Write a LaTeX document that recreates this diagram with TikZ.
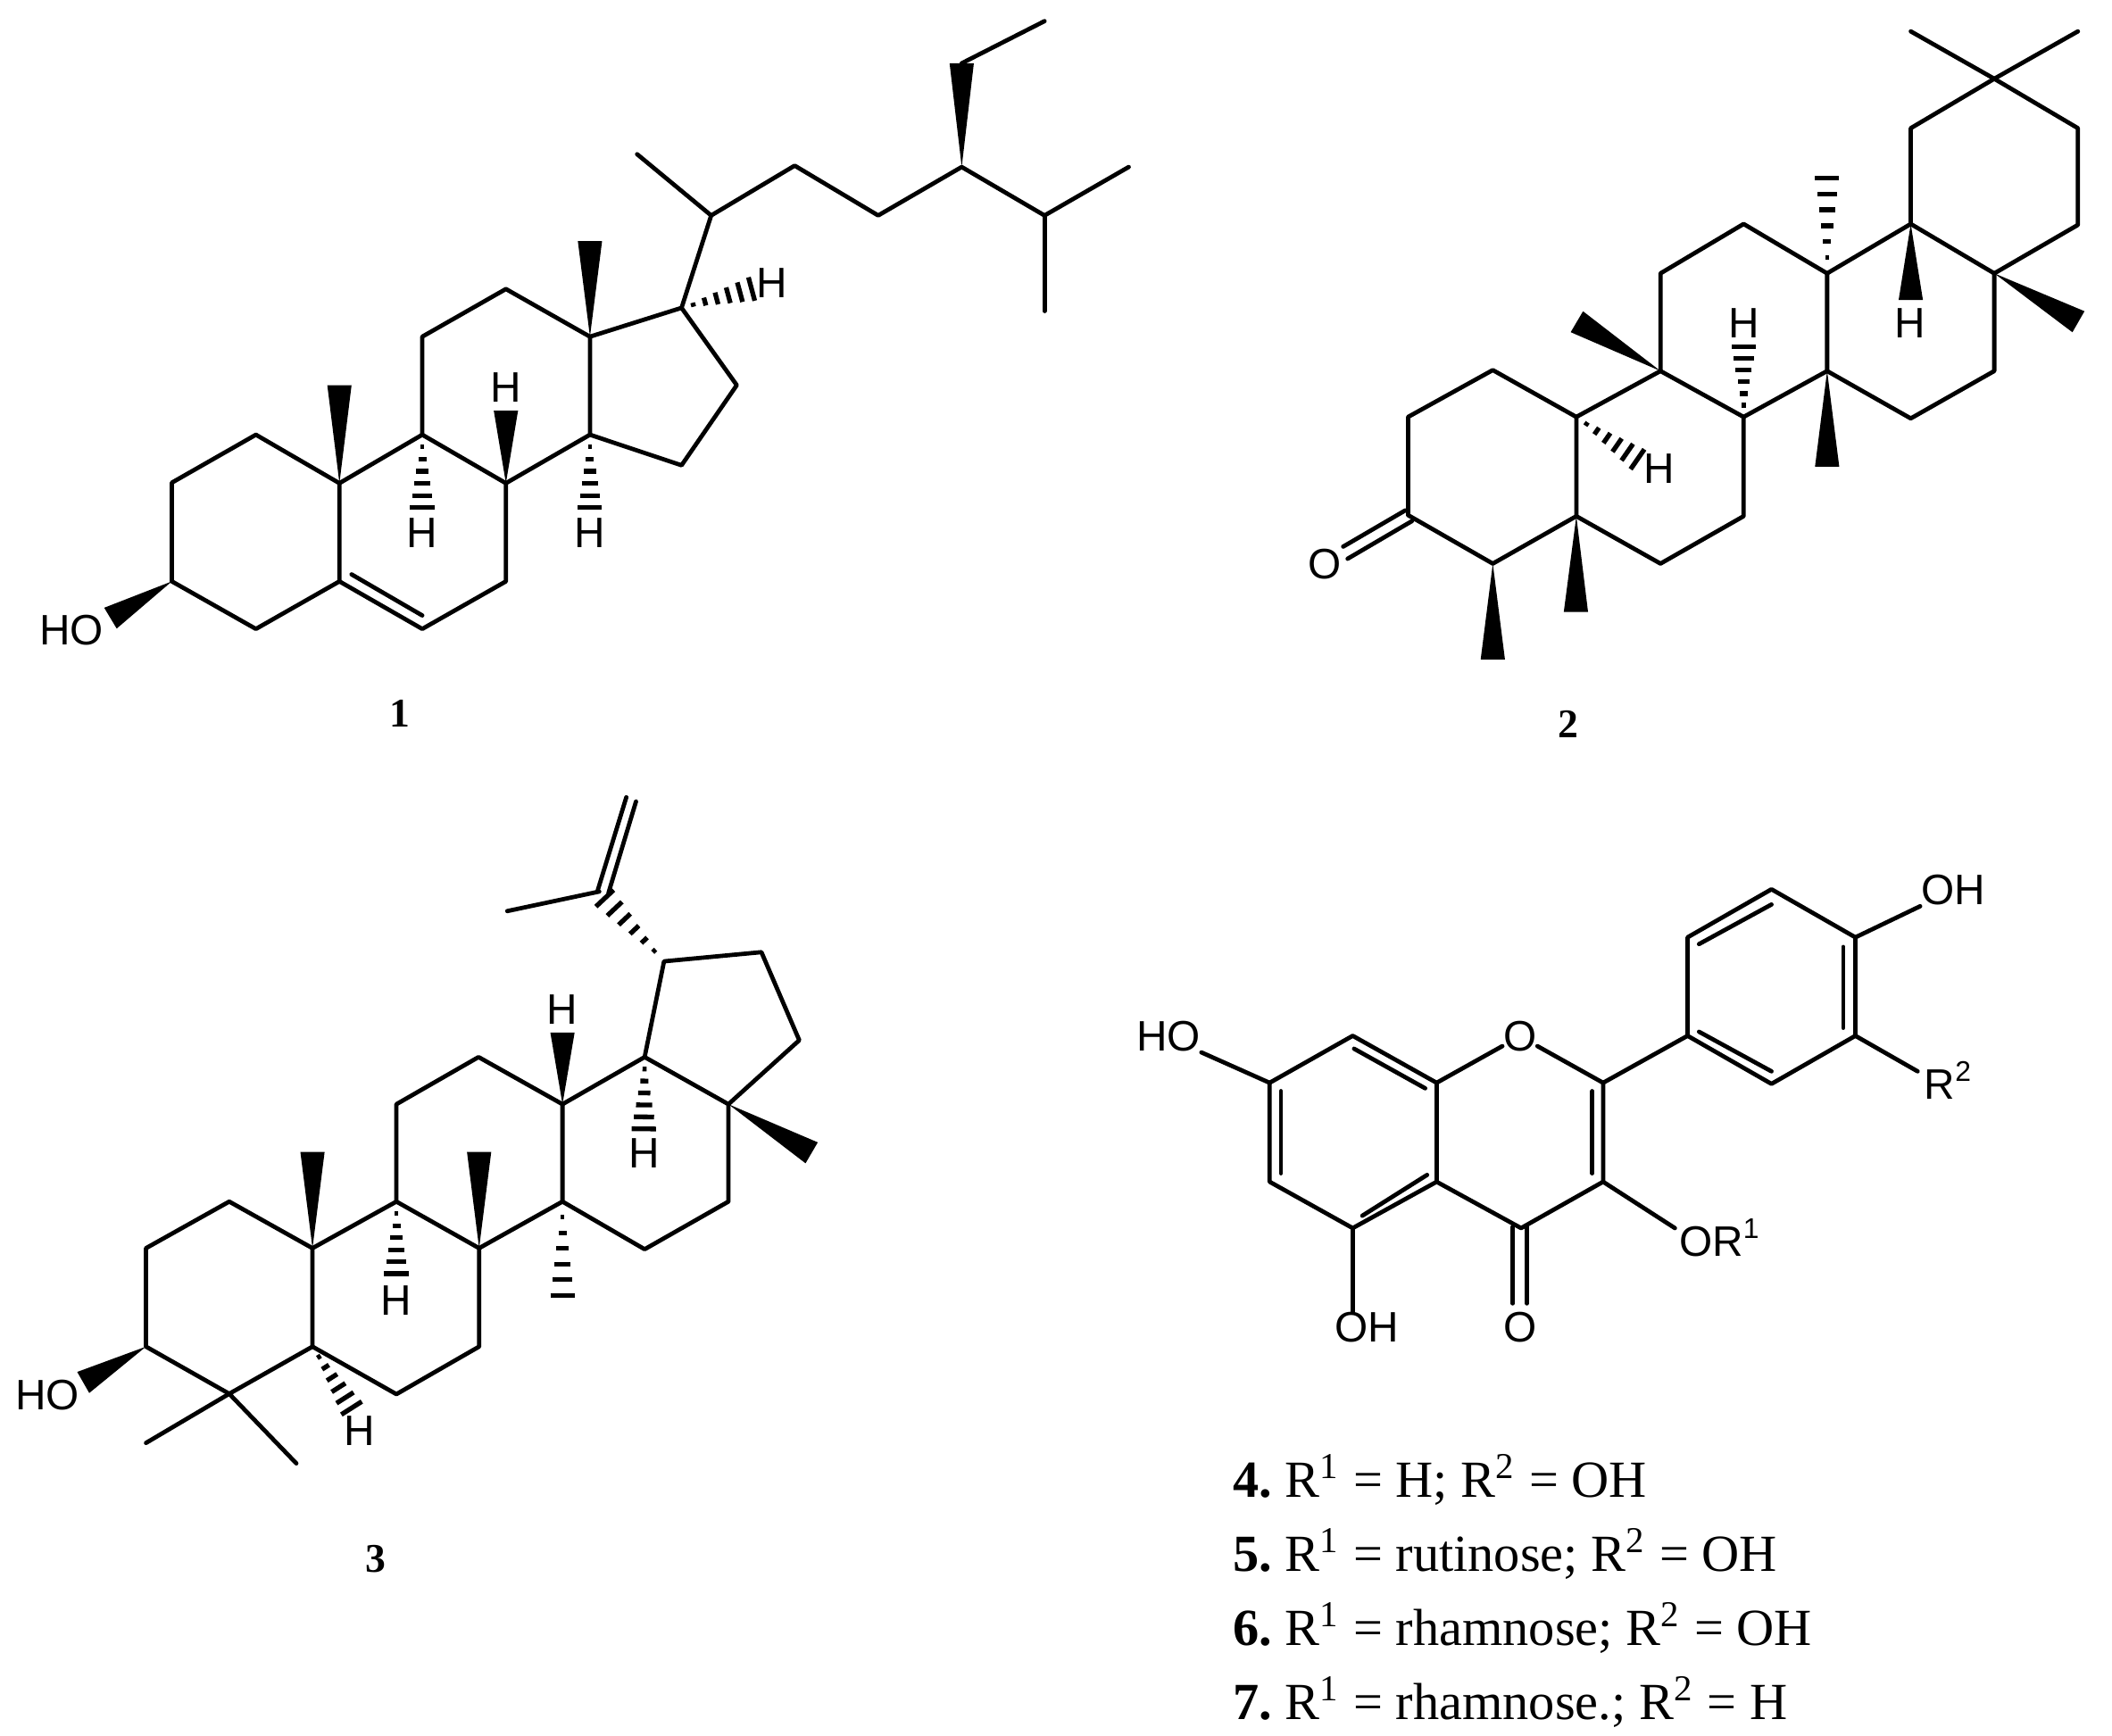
\documentclass[tikz,border=0pt]{standalone}
\usepackage{fontspec}
\setmainfont{Liberation Serif}
\setsansfont{Liberation Sans}
\usetikzlibrary{calc}

\newcommand{\wedgebond}[2]{\fill (#1) -- ($(#2)!0.09cm!90:(#1)$) -- ($(#2)!0.09cm!-90:(#1)$) -- cycle;}
\newcommand{\hashbond}[2]{\foreach \i [evaluate=\i as \t using \i/6, evaluate=\i as \w using 0.09*\i/6] in {1,...,6}
  {\draw[hashline] ($(#1)!\t!(#2)!\w cm!90:(#1)$) -- ($(#1)!\t!(#2)!\w cm!-90:(#1)$);}}

\begin{document}
\begin{tikzpicture}[x=0.01cm, y=-0.01cm]
\tikzset{
    bond/.style={line width=0.9pt, line cap=round, line join=round},
    hashline/.style={line width=1pt},
    atomlabel/.style={font=\sffamily\fontsize{9}{10}\selectfont, inner sep=0pt},
    cmpdlabel/.style={font=\bfseries\fontsize{8.6}{10}\selectfont, inner sep=0pt},
    rgroup/.style={font=\fontsize{11}{13}\selectfont, inner sep=0pt, anchor=base west}
}
\useasboundingbox (0,0) rectangle (1568,1288.4);

  % compound 1
  \node[coordinate] (a1) at (190,322.8) {};
  \node[coordinate] (a2) at (127.6,358.4) {};
  \node[coordinate] (a3) at (127.6,431.7) {};
  \node[coordinate] (a4) at (190,467) {};
  \node[coordinate] (a5) at (252,431.7) {};
  \node[coordinate] (a6) at (313.5,467) {};
  \node[coordinate] (a7) at (375.6,431.7) {};
  \node[coordinate] (a8) at (375.6,358.8) {};
  \node[coordinate] (a9) at (313.5,322.8) {};
  \node[coordinate] (a10) at (252,358.8) {};
  \node[coordinate] (a11) at (313.5,250) {};
  \node[coordinate] (a12) at (375.6,214.6) {};
  \node[coordinate] (a13) at (438,250) {};
  \node[coordinate] (a14) at (438,322.8) {};
  \node[coordinate] (a15) at (506,345.5) {};
  \node[coordinate] (a16) at (547,286) {};
  \node[coordinate] (a17) at (506,228.6) {};
  \node[coordinate] (a18) at (438,179) {};
  \node[coordinate] (a19) at (252,286) {};
  \node[coordinate] (a20) at (528,160) {};
  \node[coordinate] (a21) at (473,114.5) {};
  \node[coordinate] (a22) at (590,123) {};
  \node[coordinate] (a23) at (652,160) {};
  \node[coordinate] (a24) at (714,124) {};
  \node[coordinate] (a25) at (775.5,160) {};
  \node[coordinate] (a26) at (838,124) {};
  \node[coordinate] (a27) at (775.5,231) {};
  \node[coordinate] (a28) at (714,47) {};
  \node[coordinate] (a29) at (775.5,15.7) {};
  \node[coordinate] (a3o) at (82,459) {};
  \node[coordinate] (a8h) at (375.6,305) {};
  \node[coordinate] (a9h) at (313.5,377) {};
  \node[coordinate] (a14h) at (438,377) {};
  \node[coordinate] (a17h) at (558,214.6) {};
  \node[coordinate] (a5i) at (261,426.5) {};
  \node[coordinate] (a6i) at (313.5,457) {};
  \node[atomlabel] (aHO) at (53,467.7) {HO};
  \node[atomlabel] (aH8) at (375.6,288) {H};
  \node[atomlabel] (aH9) at (313.5,396) {H};
  \node[atomlabel] (aH14) at (438,396) {H};
  \node[atomlabel] (aH17) at (573,210) {H};
  \node[cmpdlabel] (cmpd1) at (297,530) {1};
  \draw[bond] (a3) -- (a2) -- (a1) -- (a10) -- (a5) -- (a4) -- (a3);
  \draw[bond] (a5) -- (a6) -- (a7) -- (a8) -- (a9) -- (a10);
  \draw[bond] (a9) -- (a11) -- (a12) -- (a13) -- (a14) -- (a8);
  \draw[bond] (a13) -- (a17) -- (a16) -- (a15) -- (a14);
  \draw[bond] (a17) -- (a20) -- (a21);
  \draw[bond] (a20) -- (a22) -- (a23) -- (a24) -- (a25) -- (a26);
  \draw[bond] (a25) -- (a27);
  \draw[bond] (a28) -- (a29);
  \draw[bond] (a5i) -- (a6i);
  \wedgebond{a24}{a28}
  \wedgebond{a13}{a18}
  \wedgebond{a10}{a19}
  \wedgebond{a8}{a8h}
  \wedgebond{a3}{a3o}
  \hashbond{a9}{a9h}
  \hashbond{a14}{a14h}
  \hashbond{a17}{a17h}

  % compound 2
  \node[coordinate] (b1) at (1108.3,274.8) {};
  \node[coordinate] (b2) at (1045.4,309.6) {};
  \node[coordinate] (b3) at (1045.4,382.5) {};
  \node[coordinate] (b4) at (1108.3,418.5) {};
  \node[coordinate] (b5) at (1170.3,383.3) {};
  \node[coordinate] (b6) at (1232.8,418.5) {};
  \node[coordinate] (b7) at (1294.5,383.3) {};
  \node[coordinate] (b8) at (1294.5,309.6) {};
  \node[coordinate] (b9) at (1170.3,309.6) {};
  \node[coordinate] (b10) at (1232.8,275.5) {};
  \node[coordinate] (b11) at (1232.8,203) {};
  \node[coordinate] (b12) at (1294.5,166.3) {};
  \node[coordinate] (b13) at (1356.5,203) {};
  \node[coordinate] (b14) at (1356.5,275.5) {};
  \node[coordinate] (b15) at (1418.6,310.7) {};
  \node[coordinate] (b16) at (1480.6,275.5) {};
  \node[coordinate] (b17) at (1480.6,203) {};
  \node[coordinate] (b18) at (1418.6,166.3) {};
  \node[coordinate] (b19) at (1418.6,95.2) {};
  \node[coordinate] (b20) at (1480.6,58.5) {};
  \node[coordinate] (b21) at (1542.7,95.2) {};
  \node[coordinate] (b22) at (1542.7,167) {};
  \node[coordinate] (b23) at (1418.6,23.3) {};
  \node[coordinate] (b24) at (1542.7,23.3) {};
  \node[coordinate] (b4m) at (1108.3,489.6) {};
  \node[coordinate] (b5m) at (1170,454.4) {};
  \node[coordinate] (b14m) at (1356.5,346.6) {};
  \node[coordinate] (b10m) at (1170.7,238.9) {};
  \node[coordinate] (b17m) at (1543.1,238.9) {};
  \node[coordinate] (b13m) at (1356.5,132.2) {};
  \node[coordinate] (b18h) at (1418.6,222.7) {};
  \node[coordinate] (b8h) at (1294.5,257.5) {};
  \node[coordinate] (b9h) at (1215.7,341) {};
  \node[coordinate] (b3u) at (1043.3,379) {};
  \node[coordinate] (b3d) at (1048.3,386.9) {};
  \node[coordinate] (bOu) at (997.2,405.9) {};
  \node[coordinate] (bOd) at (1000.5,414.9) {};
  \node[atomlabel] (bO) at (983.3,419) {O};
  \node[atomlabel] (bH8) at (1294.5,240) {H};
  \node[atomlabel] (bH18) at (1417.8,240) {H};
  \node[atomlabel] (bH9) at (1232,347.7) {H};
  \node[cmpdlabel] (cmpd2) at (1164.6,537.7) {2};
  \draw[bond] (b3) -- (b2) -- (b1) -- (b9) -- (b5) -- (b4) -- (b3);
  \draw[bond] (b5) -- (b6) -- (b7) -- (b8) -- (b10) -- (b9);
  \draw[bond] (b10) -- (b11) -- (b12) -- (b13) -- (b14) -- (b8);
  \draw[bond] (b14) -- (b15) -- (b16) -- (b17) -- (b18) -- (b13);
  \draw[bond] (b18) -- (b19) -- (b20) -- (b21) -- (b22) -- (b17);
  \draw[bond] (b20) -- (b23);
  \draw[bond] (b20) -- (b24);
  \draw[bond] (b3u) -- (bOu);
  \draw[bond] (b3d) -- (bOd);
  \wedgebond{b4}{b4m}
  \wedgebond{b5}{b5m}
  \wedgebond{b14}{b14m}
  \wedgebond{b10}{b10m}
  \wedgebond{b17}{b17m}
  \wedgebond{b18}{b18h}
  \hashbond{b13}{b13m}
  \hashbond{b8}{b8h}
  \hashbond{b9}{b9h}

  % compound 3
  \node[coordinate] (c1) at (170.2,892.2) {};
  \node[coordinate] (c2) at (108.4,926.8) {};
  \node[coordinate] (c3) at (108.4,999.9) {};
  \node[coordinate] (c4) at (170.2,1034.9) {};
  \node[coordinate] (c5) at (232,999.9) {};
  \node[coordinate] (c6) at (294.3,1035.2) {};
  \node[coordinate] (c7) at (355.7,999.9) {};
  \node[coordinate] (c8) at (355.7,926.8) {};
  \node[coordinate] (c9) at (294.3,892.2) {};
  \node[coordinate] (c10) at (232,926.8) {};
  \node[coordinate] (c11) at (294.3,819.9) {};
  \node[coordinate] (c12) at (355.3,784.9) {};
  \node[coordinate] (c13) at (417.6,819.9) {};
  \node[coordinate] (c14) at (417.6,892.2) {};
  \node[coordinate] (c15) at (478.6,927.6) {};
  \node[coordinate] (c16) at (540.8,892.2) {};
  \node[coordinate] (c17) at (540.8,819.9) {};
  \node[coordinate] (c18) at (478.6,784.9) {};
  \node[coordinate] (c19) at (493,713.8) {};
  \node[coordinate] (c20) at (565.3,707) {};
  \node[coordinate] (c21) at (593.4,772.4) {};
  \node[coordinate] (c22) at (108.4,1071.4) {};
  \node[coordinate] (c23) at (220,1086.6) {};
  \node[coordinate] (c24) at (444.9,662) {};
  \node[coordinate] (c25) at (376.6,676.5) {};
  \node[coordinate] (c24a) at (443.7,661.3) {};
  \node[coordinate] (c24b) at (451.7,663.2) {};
  \node[coordinate] (c26a) at (465,592) {};
  \node[coordinate] (c26b) at (472.2,595.1) {};
  \node[coordinate] (c10m) at (232,855.3) {};
  \node[coordinate] (c8m) at (355.7,855.3) {};
  \node[coordinate] (c17m) at (602.6,856) {};
  \node[coordinate] (c14m) at (417.6,961.8) {};
  \node[coordinate] (c3o) at (61.8,1026.5) {};
  \node[coordinate] (c13h) at (417.6,766.7) {};
  \node[coordinate] (c9h) at (294.3,945.8) {};
  \node[coordinate] (c18h) at (478,838.2) {};
  \node[coordinate] (c5h) at (261,1045.5) {};
  \node[coordinate] (c19v) at (449,667) {};
  \node[atomlabel] (cHO) at (35.3,1036) {HO};
  \node[atomlabel] (cH13) at (417.6,749.6) {H};
  \node[atomlabel] (cH9) at (293.9,965.6) {H};
  \node[atomlabel] (cH18) at (478.6,856.4) {H};
  \node[atomlabel] (cH5) at (267,1062.6) {H};
  \node[cmpdlabel] (cmpd3) at (279,1157.7) {3};
  \draw[bond] (c3) -- (c2) -- (c1) -- (c10) -- (c5) -- (c4) -- (c3);
  \draw[bond] (c5) -- (c6) -- (c7) -- (c8) -- (c9) -- (c10);
  \draw[bond] (c9) -- (c11) -- (c12) -- (c13) -- (c14) -- (c8);
  \draw[bond] (c14) -- (c15) -- (c16) -- (c17) -- (c18) -- (c13);
  \draw[bond] (c18) -- (c19) -- (c20) -- (c21) -- (c17);
  \draw[bond] (c4) -- (c22);
  \draw[bond] (c4) -- (c23);
  \draw[bond] (c25) -- (c24);
  \draw[bond] (c24a) -- (c26a);
  \draw[bond] (c24b) -- (c26b);
  \wedgebond{c10}{c10m}
  \wedgebond{c8}{c8m}
  \wedgebond{c17}{c17m}
  \wedgebond{c3}{c3o}
  \wedgebond{c13}{c13h}
  \hashbond{c9}{c9h}
  \hashbond{c18}{c18h}
  \hashbond{c14}{c14m}
  \hashbond{c5}{c5h}
  \hashbond{c19}{c19v}

  % compounds 4-7
  \node[coordinate] (d1) at (942.6,804) {};
  \node[coordinate] (d2) at (942.6,877.5) {};
  \node[coordinate] (d3) at (1004.3,911.9) {};
  \node[coordinate] (d4) at (1066.6,877.5) {};
  \node[coordinate] (d5) at (1066.6,804) {};
  \node[coordinate] (d6) at (1004.3,769.1) {};
  \node[coordinate] (d7) at (1190.2,804) {};
  \node[coordinate] (d8) at (1190.2,877.5) {};
  \node[coordinate] (d9) at (1129.3,911.9) {};
  \node[coordinate] (d10) at (1252.9,769.1) {};
  \node[coordinate] (d11) at (1252.9,696) {};
  \node[coordinate] (d12) at (1315.2,660.3) {};
  \node[coordinate] (d13) at (1377.5,696) {};
  \node[coordinate] (d14) at (1377.5,769.1) {};
  \node[coordinate] (d15) at (1315.2,804.8) {};
  \node[coordinate] (d1i) at (951,810.2) {};
  \node[coordinate] (d2i) at (951,871.2) {};
  \node[coordinate] (d6i) at (1005.3,778.7) {};
  \node[coordinate] (d5i) at (1058.1,808.1) {};
  \node[coordinate] (d3i) at (1011.4,902.7) {};
  \node[coordinate] (d4i) at (1059.5,872.4) {};
  \node[coordinate] (d7i) at (1182.2,810.2) {};
  \node[coordinate] (d8i) at (1182.2,871.2) {};
  \node[coordinate] (d10i) at (1261.4,766.1) {};
  \node[coordinate] (d15i) at (1315.2,795.5) {};
  \node[coordinate] (d11i) at (1261.4,701) {};
  \node[coordinate] (d12i) at (1315.2,671.6) {};
  \node[coordinate] (d13i) at (1368.5,703.1) {};
  \node[coordinate] (d14i) at (1368.5,763.2) {};
  \node[coordinate] (d9a) at (1123.2,911) {};
  \node[coordinate] (d9b) at (1133.6,911) {};
  \node[coordinate] (dOa) at (1123.2,967.8) {};
  \node[coordinate] (dOb) at (1133.6,967.8) {};
  \node[coordinate] (dORb) at (1243.5,911.9) {};
  \node[coordinate] (dR2b) at (1423.7,795.5) {};
  \node[atomlabel] (dO) at (1128.4,769.5) {O};
  \node[atomlabel] (dO2) at (1128.4,985.8) {O};
  \node[atomlabel] (dOH5) at (1014.7,985.8) {OH};
  \node[atomlabel] (dHO7) at (867.5,769.5) {HO};
  \node[atomlabel] (dOH4) at (1450,661) {OH};
  \node[atomlabel, anchor=west] (dOR) at (1246,919) {OR\textsuperscript{1}};
  \node[atomlabel, anchor=west] (dR2) at (1428,802) {R\textsuperscript{2}};
  \draw[bond] (d1) -- (d2) -- (d3) -- (d4) -- (d5) -- (d6) -- (d1);
  \draw[bond] (d5) -- (dO) -- (d7) -- (d8) -- (d9) -- (d4);
  \draw[bond] (d7) -- (d10) -- (d11) -- (d12) -- (d13) -- (d14) -- (d15) -- (d10);
  \draw[bond] (d1) -- (dHO7.south east);
  \draw[bond] (d3) -- (d3 |- dOH5.north);
  \draw[bond] (d8) -- (dORb);
  \draw[bond] (d13) -- (dOH4.south west);
  \draw[bond] (d14) -- (dR2b);
  \draw[bond] (d1i) -- (d2i);
  \draw[bond] (d6i) -- (d5i);
  \draw[bond] (d3i) -- (d4i);
  \draw[bond] (d7i) -- (d8i);
  \draw[bond] (d10i) -- (d15i);
  \draw[bond] (d11i) -- (d12i);
  \draw[bond] (d13i) -- (d14i);
  \draw[bond] (d9a) -- (dOa);
  \draw[bond] (d9b) -- (dOb);

  \node[rgroup] (cap4) at (915,1112) {\textbf{4.}\hspace{-1pt} R\textsuperscript{1} = H; R\textsuperscript{2} = OH};
  \node[rgroup] (cap5) at (915,1167) {\textbf{5.}\hspace{-1pt} R\textsuperscript{1} = rutinose; R\textsuperscript{2} = OH};
  \node[rgroup] (cap6) at (915,1222) {\textbf{6.}\hspace{-1pt} R\textsuperscript{1} = rhamnose; R\textsuperscript{2} = OH};
  \node[rgroup] (cap7) at (915,1277) {\textbf{7.}\hspace{-1pt} R\textsuperscript{1} = rhamnose.; R\textsuperscript{2} = H};
\end{tikzpicture}
\end{document}
